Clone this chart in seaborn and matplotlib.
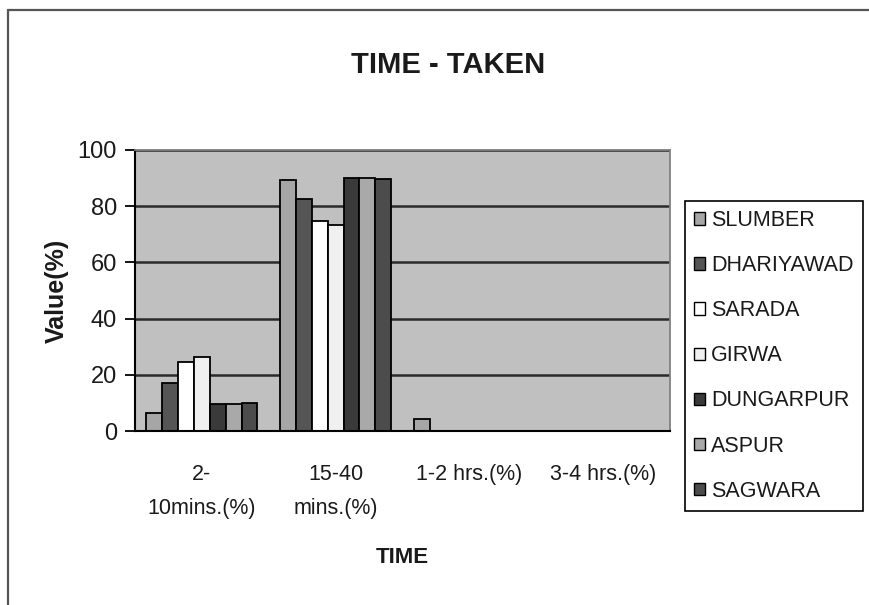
import matplotlib
matplotlib.use("Agg")
import matplotlib.pyplot as plt
from matplotlib.lines import Line2D
from matplotlib.patches import Patch
import seaborn as sns
import pandas as pd

# Time categories on the x axis
categories = ["2-\n10mins.(%)", "15-40\nmins.(%)", "1-2 hrs.(%)", "3-4 hrs.(%)"]

# Share of respondents (%) per district for each time band
districts = ["SLUMBER", "DHARIYAWAD", "SARADA", "GIRWA", "DUNGARPUR", "ASPUR", "SAGWARA"]
slumber = [6.4, 89.5, 4.3, 0]
dhariyawad = [17.2, 82.4, 0, 0]
sarada = [24.6, 74.6, 0, 0]
girwa = [26.4, 73.2, 0, 0]
dungarpur = [9.5, 90.1, 0, 0]
aspur = [9.5, 90.1, 0, 0]
sagwara = [10.1, 89.6, 0, 0]
yticks = [0, 20, 40, 60, 80, 100]

series = [slumber, dhariyawad, sarada, girwa, dungarpur, aspur, sagwara]
colors = ["#a6a6a6", "#555555", "#ffffff", "#f0f0f0", "#3a3a3a", "#a9a9a9", "#4c4c4c"]

rows = []
for name, vals in zip(districts, series):
    for cat, v in zip(categories, vals):
        rows.append({"time": cat, "district": name, "value": v})
df = pd.DataFrame(rows)

sns.set_style("white")
plt.rcParams["font.family"] = ["Liberation Sans", "DejaVu Sans"]
TXT = "#1a1a1a"

fig = plt.figure(figsize=(8.7, 6.05), dpi=100)
ax = fig.add_axes([135 / 870, 1 - 431 / 605, 535 / 870, 281 / 605])
ax.set_facecolor("#c0c0c0")
ax.set_axisbelow(True)

sns.barplot(data=df, x="time", y="value", hue="district",
            order=categories, hue_order=districts, palette=colors,
            width=0.83, edgecolor="black", linewidth=1.3, saturation=1,
            legend=False, ax=ax)

ax.set_ylim(0, 100)
ax.set_xlim(-0.5, len(categories) - 0.5)
ax.set_yticks(yticks)
ax.set_yticklabels([str(t) for t in yticks], fontsize=17, color=TXT)
ax.yaxis.grid(True, color="#2a2a2a", linewidth=1.8)
ax.xaxis.grid(False)

# category labels without marks, boundary ticks as minor ticks
ax.set_xticks(range(len(categories)))
ax.set_xticklabels(categories, fontsize=15.5, linespacing=1.8, color=TXT)
ax.tick_params(axis="x", which="major", length=0, pad=24)
ax.set_xticks([i - 0.5 for i in range(len(categories) + 1)], minor=True)
ax.tick_params(axis="x", which="minor", length=9, width=1.3, color="black", direction="out")
ax.tick_params(axis="y", length=7, width=1.3, color="black", direction="out", pad=6, left=True)

for side in ["left", "bottom"]:
    ax.spines[side].set_color("black")
    ax.spines[side].set_linewidth(1.5)
for side in ["top", "right"]:
    ax.spines[side].set_color("#808080")
    ax.spines[side].set_linewidth(1.3)

ax.set_xlabel("TIME", fontsize=16, fontweight="bold", labelpad=20, color=TXT)
ax.set_ylabel("Value(%)", fontsize=18, fontweight="bold", labelpad=6, color=TXT)

fig.text(448 / 870, 1 - 65 / 605, "TIME - TAKEN", fontsize=21, fontweight="bold",
         ha="center", va="center", color=TXT)

handles = [Patch(facecolor=c, edgecolor="black", linewidth=1.0) for c in colors]
leg = fig.legend(handles, districts, loc="upper left",
                 bbox_to_anchor=(685 / 870, 1 - 201 / 605),
                 bbox_transform=fig.transFigure, fontsize=15.5,
                 handlelength=0.5, handleheight=0.5, handletextpad=0.3,
                 labelspacing=1.12, borderpad=0.42, borderaxespad=0,
                 fancybox=False, frameon=True, edgecolor="black", framealpha=1)
leg.get_frame().set_linewidth(1.2)
for t in leg.get_texts():
    t.set_color(TXT)

# outer chart border
fig.add_artist(Line2D([8 / 870, 8 / 870], [0, 1 - 10 / 605], color="#555555",
                      linewidth=1.6, transform=fig.transFigure))
fig.add_artist(Line2D([8 / 870, 1], [1 - 10 / 605, 1 - 10 / 605], color="#555555",
                      linewidth=1.6, transform=fig.transFigure))

fig.savefig("out.png", dpi=100)
